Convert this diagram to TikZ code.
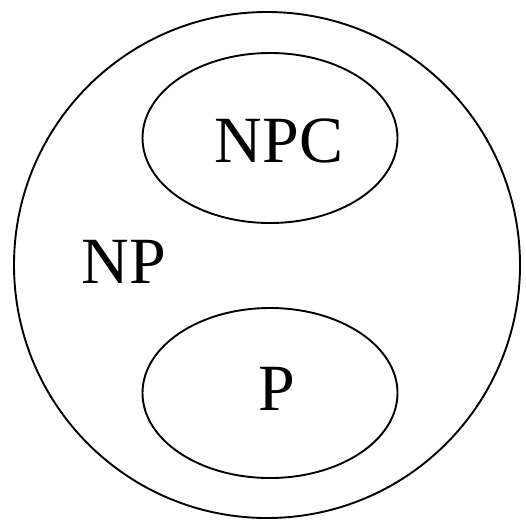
\documentclass[tikz,border=0pt]{standalone}
\usepackage{fontspec}
\setmainfont{Liberation Serif}
\usetikzlibrary{shapes.geometric}

\begin{document}
\begin{tikzpicture}[x=1pt,y=1pt,
 cls/.style={draw,line width=1.9pt,ellipse,inner sep=0pt,minimum width=255pt,minimum height=170pt,
  font=\fontsize{66}{66}\selectfont},
 lbl/.style={inner sep=0pt,font=\fontsize{66}{66}\selectfont}]
\useasboundingbox (0,0) rectangle (526,-520);
\node[draw,line width=1.9pt,circle,inner sep=0pt,minimum size=506pt] (np) at (267,-265) {};
\node[cls] (npc) at (270,-138) {};
\node[cls] (p) at (270,-393) {};
\node[lbl] (npclbl) at (279,-141) {NPC};
\node[lbl] (nplbl) at (124,-262) {NP};
\node[lbl] (plbl) at (277,-389) {P};
\end{tikzpicture}
\end{document}
